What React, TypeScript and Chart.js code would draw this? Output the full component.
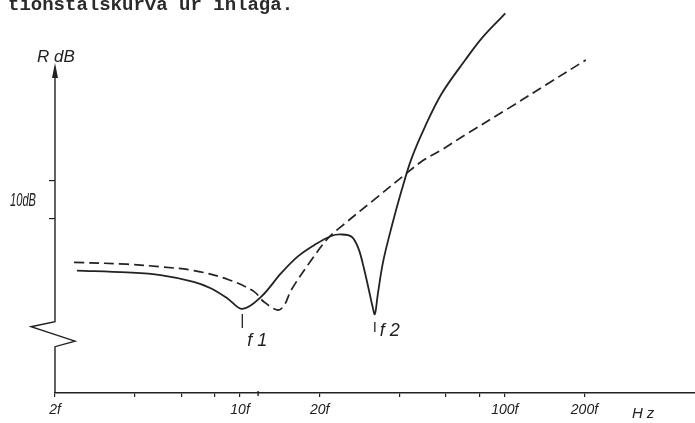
import React, { useEffect, useRef } from 'react';
import { Chart, registerables } from 'chart.js';

Chart.register(...registerables);

// ---- text ----
const titleText = 'tionstalskurva ur inlaga.';
const yAxisTitle = 'R dB';
const yStepCaption = '10dB';
const xAxisUnit = 'Hz';

// ---- axes ----
const xTickValues = [2, 4, 6, 8, 10, 20, 40, 60, 80, 100, 200];
const xTickLabels = ['2f', '', '', '', '10f', '20f', '', '', '', '100f', '200f'];
const xMin = 2;
const xMax = 537;
const yTickValues = [40, 50];
const yMin = -6.46;
const yMax = 81.3;
const xAxisMark = 11.7;

// ---- series (frequency in multiples of f, level in dB) ----
const solidFreq = [2.42, 3.74, 5.01, 6.68, 7.75, 8.97, 10.2, 12.0, 14.3, 16.5, 19.1, 22.1, 24.1, 26.4, 28.0, 29.4, 30.7, 31.6, 32.3, 33.1, 34.7, 37.4, 40.8, 44.5, 50.0, 57.8, 70.9, 82.1, 100.5];
const solidDb = [26.1, 25.6, 24.9, 23.1, 21.4, 18.7, 15.9, 19.1, 25.4, 29.8, 32.9, 35.3, 35.7, 35.1, 32.0, 26.6, 20.8, 16.8, 14.5, 19.5, 28.4, 37.8, 47.5, 56.0, 64.4, 73.2, 82.1, 88.0, 94.5];

const dashedFreq = [2.36, 3.74, 5.01, 6.70, 8.97, 11.3, 12.3, 13.9, 14.7, 15.6, 18.6, 21.5, 24.1, 32.3, 42.6, 49.4, 57.8, 70.9, 103.6, 146.9, 202.3];
const dashedDb = [28.3, 27.8, 27.1, 26.1, 23.8, 20.5, 17.8, 15.6, 16.9, 20.9, 28.9, 34.7, 37.8, 45.1, 52.0, 55.5, 58.2, 62.2, 69.3, 76.0, 82.1];

// ---- resonance markers ----
const markerFreq = [10.2, 32.3];
const markerLabels = ['f1', 'f2'];

const INK = '#222222';
const SANS = '"Liberation Sans", Arial, sans-serif';

export default function App() {
  const ref = useRef<HTMLCanvasElement>(null);

  useEffect(() => {
    const canvas = ref.current;
    if (!canvas) return;

    const toPoints = (xs: number[], ys: number[]) => xs.map((x, i) => ({ x, y: ys[i] }));

    const decor = {
      id: 'decor',
      beforeDraw(chart: any) {
        const ctx = chart.ctx;
        ctx.save();
        ctx.fillStyle = '#ffffff';
        ctx.fillRect(0, 0, chart.width, chart.height);
        ctx.restore();
      },
      afterDraw(chart: any) {
        const ctx = chart.ctx as CanvasRenderingContext2D;
        const area = chart.chartArea;
        const xs = chart.scales.x;
        const ax = area.left;
        const bottom = area.bottom;
        ctx.save();
        ctx.strokeStyle = INK;
        ctx.fillStyle = INK;
        ctx.lineWidth = 1.4;
        ctx.lineJoin = 'miter';

        // title line (cut off at top)
        ctx.font = 'bold 19px "Liberation Mono", "Courier New", monospace';
        ctx.textBaseline = 'alphabetic';
        ctx.fillStyle = '#2a2a2a';
        ctx.fillText(titleText, 8, 10);
        ctx.fillStyle = INK;

        // y axis with break and arrow
        ctx.beginPath();
        ctx.moveTo(ax, area.top + 15);
        ctx.lineTo(ax, 321.7);
        ctx.lineTo(ax - 24, 326.7);
        ctx.lineTo(ax + 20, 341.2);
        ctx.lineTo(ax, 346.7);
        ctx.lineTo(ax, bottom);
        ctx.stroke();
        ctx.beginPath();
        ctx.moveTo(ax, area.top);
        ctx.lineTo(ax - 3, area.top + 15);
        ctx.lineTo(ax + 3, area.top + 15);
        ctx.closePath();
        ctx.fill();

        // small mark on x axis
        const mx = xs.getPixelForValue(xAxisMark);
        ctx.lineWidth = 1.4;
        ctx.beginPath();
        ctx.moveTo(mx, bottom - 2);
        ctx.lineTo(mx, bottom + 3);
        ctx.stroke();

        // labels
        ctx.font = `italic 17px ${SANS}`;
        ctx.fillText(yAxisTitle, 37, 62);

        ctx.save();
        ctx.font = `italic 18px ${SANS}`;
        const w = ctx.measureText(yStepCaption).width;
        ctx.translate(10, 206);
        ctx.scale(26 / w, 1);
        ctx.fillText(yStepCaption, 0, 0);
        ctx.restore();

        ctx.save();
        ctx.font = `italic 15px ${SANS}`;
        (ctx as any).letterSpacing = '4px';
        ctx.fillText(xAxisUnit, 632, 418);
        ctx.restore();

        // resonance markers
        const tickTop = [314, 322];
        const tickBot = [328, 332];
        const textBase = [346, 336];
        markerFreq.forEach((f, i) => {
          const px = xs.getPixelForValue(f);
          ctx.lineWidth = 1.3;
          ctx.beginPath();
          ctx.moveTo(px, tickTop[i]);
          ctx.lineTo(px, tickBot[i]);
          ctx.stroke();
          ctx.save();
          ctx.font = `italic 18px ${SANS}`;
          (ctx as any).letterSpacing = '5px';
          ctx.fillText(markerLabels[i], px + 5, textBase[i]);
          ctx.restore();
        });

        ctx.restore();
      },
    };

    const chart = new Chart(canvas, {
      type: 'line',
      data: {
        datasets: [
          {
            data: toPoints(solidFreq, solidDb),
            borderColor: INK,
            borderWidth: 1.8,
            pointRadius: 0,
            tension: 0.35,
            fill: false,
            clip: false,
          } as any,
          {
            data: toPoints(dashedFreq, dashedDb),
            borderColor: INK,
            borderWidth: 1.7,
            borderDash: [10, 5],
            pointRadius: 0,
            tension: 0.35,
            fill: false,
            clip: false,
          } as any,
        ],
      },
      options: {
        responsive: false,
        animation: false,
        devicePixelRatio: 1,
        layout: { padding: { top: 63, left: 0, right: 0, bottom: 0 } },
        plugins: { legend: { display: false }, tooltip: { enabled: false } },
        scales: {
          x: {
            type: 'logarithmic',
            min: xMin,
            max: xMax,
            afterBuildTicks: (s: any) => {
              s.ticks = xTickValues.map((v) => ({ value: v }));
            },
            afterFit: (s: any) => {
              s.height = 30;
            },
            ticks: {
              autoSkip: false,
              maxRotation: 0,
              minRotation: 0,
              padding: 5,
              color: INK,
              font: { family: SANS, size: 14, style: 'italic' },
              callback: (v: any) => {
                const idx = xTickValues.indexOf(Number(v));
                return idx >= 0 ? xTickLabels[idx] : '';
              },
            },
            grid: { drawOnChartArea: false, drawTicks: true, tickLength: 4, color: INK, lineWidth: 1.2 },
            border: { display: true, color: INK, width: 1.4 },
          },
          y: {
            type: 'linear',
            min: yMin,
            max: yMax,
            afterBuildTicks: (s: any) => {
              s.ticks = yTickValues.map((v) => ({ value: v }));
            },
            afterFit: (s: any) => {
              s.width = 55;
            },
            ticks: { callback: () => '', padding: 0, font: { size: 1 } },
            grid: { drawOnChartArea: false, drawTicks: true, tickLength: 6, color: INK, lineWidth: 1.2 },
            border: { display: false },
          },
        },
      } as any,
      plugins: [decor],
    });

    return () => chart.destroy();
  }, []);

  return (
    <div style={{ position: 'fixed', left: 0, top: 0, width: 695, height: 423, overflow: 'hidden', background: '#fff' }}>
      <canvas ref={ref} width={698} height={423} style={{ display: 'block' }} />
    </div>
  );
}
